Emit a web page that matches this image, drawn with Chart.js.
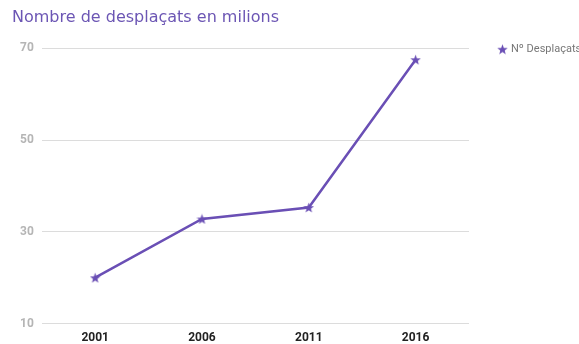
<!DOCTYPE html>
<html>
<head>
  <meta charset="utf-8">
  <title>Nombre de desplaçats en milions</title>
  <script src="https://cdn.jsdelivr.net/npm/chart.js"></script>
  <style>
    body {
      margin: 0;
      padding: 0;
      background-color: white;
      overflow: hidden;
    }
    .chart-container {
      position: relative;
      width: 579px;
      height: 344px;
    }
  </style>
</head>
<body>
  <div class="chart-container">
    <canvas id="lineChart"></canvas>
  </div>

  <script>
    // Data
    const years = ['2001', '2006', '2011', '2016'];
    const displaced = [20, 32.8, 35.3, 67.5];
    const yTicks = [10, 30, 50, 70];

    const purple = '#6a4fb5';

    // Filled five point star used as marker
    function makeStar(size, color) {
      const c = document.createElement('canvas');
      c.width = size;
      c.height = size;
      const g = c.getContext('2d');
      const cx = size / 2, cy = size / 2 + 0.5;
      const outer = size / 2, inner = outer * 0.42;
      g.beginPath();
      for (let i = 0; i < 10; i++) {
        const r = i % 2 === 0 ? outer : inner;
        const a = -Math.PI / 2 + i * Math.PI / 5;
        const x = cx + r * Math.cos(a);
        const y = cy + r * Math.sin(a);
        if (i === 0) g.moveTo(x, y); else g.lineTo(x, y);
      }
      g.closePath();
      g.fillStyle = color;
      g.fill();
      return c;
    }

    const star = makeStar(11, purple);

    // Legend to the right of the plot, top aligned with the plot area
    const sideLegend = {
      id: 'sideLegend',
      afterDraw(chart) {
        const c = chart.ctx;
        const area = chart.chartArea;
        const ds = chart.data.datasets[0];
        const y = area.top + 1;
        c.save();
        c.drawImage(ds.pointStyle, area.right + 28, y - 5.5);
        c.fillStyle = '#777777';
        c.font = '11px Roboto';
        c.textBaseline = 'middle';
        c.fillText(ds.label, area.right + 42, y);
        c.restore();
      }
    };

    const ctx = document.getElementById('lineChart').getContext('2d');

    new Chart(ctx, {
      type: 'line',
      data: {
        labels: years,
        datasets: [{
          label: 'Nº Desplaçats',
          data: displaced,
          borderColor: purple,
          backgroundColor: purple,
          borderWidth: 2.5,
          pointStyle: star,
          tension: 0
        }]
      },
      options: {
        responsive: true,
        maintainAspectRatio: false,
        animation: false,
        layout: {
          padding: { left: 12, right: 110, top: 0, bottom: -8 }
        },
        scales: {
          y: {
            min: 10,
            max: 70,
            afterBuildTicks: axis => {
              axis.ticks = yTicks.map(v => ({ value: v }));
            },
            border: { display: false },
            grid: {
              color: '#dcdcdc',
              lineWidth: 1,
              drawTicks: false
            },
            ticks: {
              padding: 8,
              color: '#b5b5b5',
              font: { family: 'Roboto', size: 12, weight: 'bold' }
            }
          },
          x: {
            offset: true,
            border: { display: false },
            grid: { display: false, drawTicks: false },
            ticks: {
              padding: 7,
              color: '#222222',
              font: { family: 'Roboto', size: 12, weight: 'bold' }
            }
          }
        },
        plugins: {
          title: {
            display: true,
            text: 'Nombre de desplaçats en milions',
            align: 'start',
            color: '#6c56b4',
            font: { family: 'DejaVu Sans', size: 16, weight: 'normal' },
            padding: { top: 8, bottom: 21 }
          },
          legend: { display: false },
          tooltip: { enabled: false }
        }
      },
      plugins: [sideLegend]
    });
  </script>
</body>
</html>
